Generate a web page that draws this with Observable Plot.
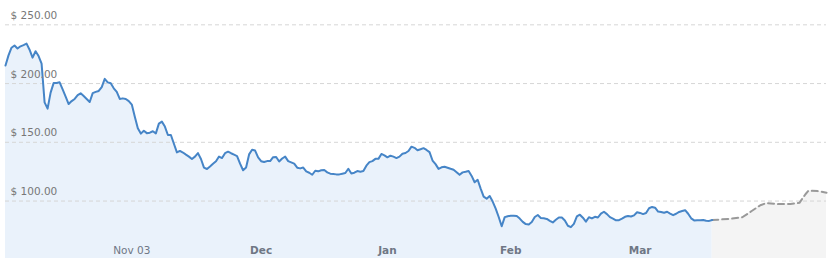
<!DOCTYPE html>
<html><head><meta charset="utf-8">
<script src="https://cdn.jsdelivr.net/npm/d3@7"></script>
<script src="https://cdn.jsdelivr.net/npm/@observablehq/plot@0.6"></script>
<style>html,body{margin:0;padding:0;background:#fff;} svg{display:block}</style>
</head><body><div id="chart"></div>
<script>
// historical price, one value per sample step
const priceHist = [
215.3,224.0,230.5,232.4,229.8,231.7,232.7,234.0,228.8,222.1,
227.5,223.4,217.0,184.0,178.7,192.3,200.4,200.5,201.1,195.1,
188.9,182.6,185.1,186.9,190.1,191.7,189.4,186.9,184.3,191.8,
192.9,193.7,197.0,204.0,201.0,200.2,196.0,192.9,186.9,187.4,
186.9,185.1,182.1,171.8,161.9,157.4,159.9,157.8,158.2,159.4,
157.6,165.9,167.6,163.4,156.2,156.2,148.8,141.4,142.7,141.3,
139.5,137.8,135.8,137.8,140.8,135.8,128.5,127.3,129.5,131.8,
133.9,137.9,136.6,140.7,142.0,140.7,139.5,138.3,131.8,126.2,
128.6,139.7,143.7,143.0,137.1,133.9,133.2,134.0,134.0,137.3,
137.5,133.7,136.2,137.8,134.0,132.9,131.8,128.4,127.8,128.5,
125.2,124.1,122.4,125.8,125.3,126.2,126.4,124.4,123.3,123.0,
122.7,122.7,123.3,123.9,127.5,123.5,124.1,125.5,125.0,125.5,
130.1,133.1,134.0,135.9,135.9,140.1,138.9,137.2,138.6,137.8,
136.6,137.8,140.3,140.9,142.6,146.3,145.3,143.3,144.1,145.0,
143.5,141.6,134.5,131.4,127.4,128.7,129.2,128.4,127.5,126.7,
124.6,122.3,124.4,124.9,125.6,121.4,116.0,118.1,110.6,103.7,
102.0,104.3,99.6,93.6,86.4,78.5,86.3,87.1,87.5,87.5,
87.2,85.1,82.3,80.4,80.0,82.1,86.4,88.1,85.6,85.3,
84.8,83.2,81.8,84.1,86.0,86.0,83.5,79.0,77.8,80.6,
86.9,88.4,85.8,82.5,86.2,85.2,86.6,86.0,89.3,90.9,
88.9,86.3,85.0,83.6,83.7,85.0,86.6,87.3,86.9,87.8,
90.5,89.9,88.9,89.8,93.9,95.0,94.3,91.1,90.6,90.0,
90.9,89.3,88.0,89.2,90.7,91.5,92.2,89.2,85.3,83.5,
83.6,83.7,83.9,83.3,83.1,83.8
];
// forecast (sample index, value)
const forecastIdx = [235,241,245,248,251,253,257,261,264,266,267,270,273];
const forecastVal = [83.8,84.9,86.2,91.3,96.4,98.3,97.4,97.4,98.5,105.8,108.8,108.5,107.1];
// axes
const yTicks = [100,150,200,250];
const tickIdx = [42,85,127,168,211];
const tickLabels = ["Nov 03","Dec","Jan","Feb","Mar"];
const tickBold = [false,true,true,true,true];
const yDomain = [51.1,270.7];
const xDomain = [0,273];

const hist = priceHist.map((v,i)=>({i, v}));
const fc = forecastIdx.map((i,k)=>({i, v: forecastVal[k]}));
const ticks = tickIdx.map((i,k)=>({i, label: tickLabels[k], bold: tickBold[k]}));
const font = "DejaVu Sans, Verdana, sans-serif";

const chart = Plot.plot({
  width: 832, height: 264,
  marginTop: 0, marginBottom: 6, marginLeft: 5, marginRight: 6,
  x: {domain: xDomain, axis: null},
  y: {domain: yDomain, axis: null},
  style: {fontFamily: font, background: "#fff"},
  marks: [
    Plot.areaY(hist, {x: "i", y1: yDomain[0], y2: "v", fill: "#eaf2fb"}),
    Plot.areaY(fc, {x: "i", y1: yDomain[0], y2: "v", fill: "#f4f4f4"}),
    Plot.ruleY(yTicks, {stroke: "#d6d6d6", strokeDasharray: "4,3", strokeWidth: 1}),
    Plot.line(fc, {x: "i", y: "v", stroke: "#999", strokeWidth: 2, strokeDasharray: "6,4"}),
    Plot.line(hist, {x: "i", y: "v", stroke: "#4685c7", strokeWidth: 2}),
    Plot.text(yTicks, {y: d => d, text: d => "$ " + d.toFixed(2), frameAnchor: "left", dx: 5, dy: -6,
      lineAnchor: "bottom", textAnchor: "start", fill: "#777", fontSize: 10.5}),
    Plot.text(ticks.filter(d => !d.bold), {x: "i", text: "label", frameAnchor: "bottom", dy: -5,
      lineAnchor: "bottom", fill: "#6f7785", fontSize: 10.5}),
    Plot.text(ticks.filter(d => d.bold), {x: "i", text: "label", frameAnchor: "bottom", dy: -5,
      lineAnchor: "bottom", fill: "#6f7785", fontSize: 10.5, fontWeight: "bold"})
  ]
});
document.getElementById("chart").appendChild(chart);
</script>
</body></html>
